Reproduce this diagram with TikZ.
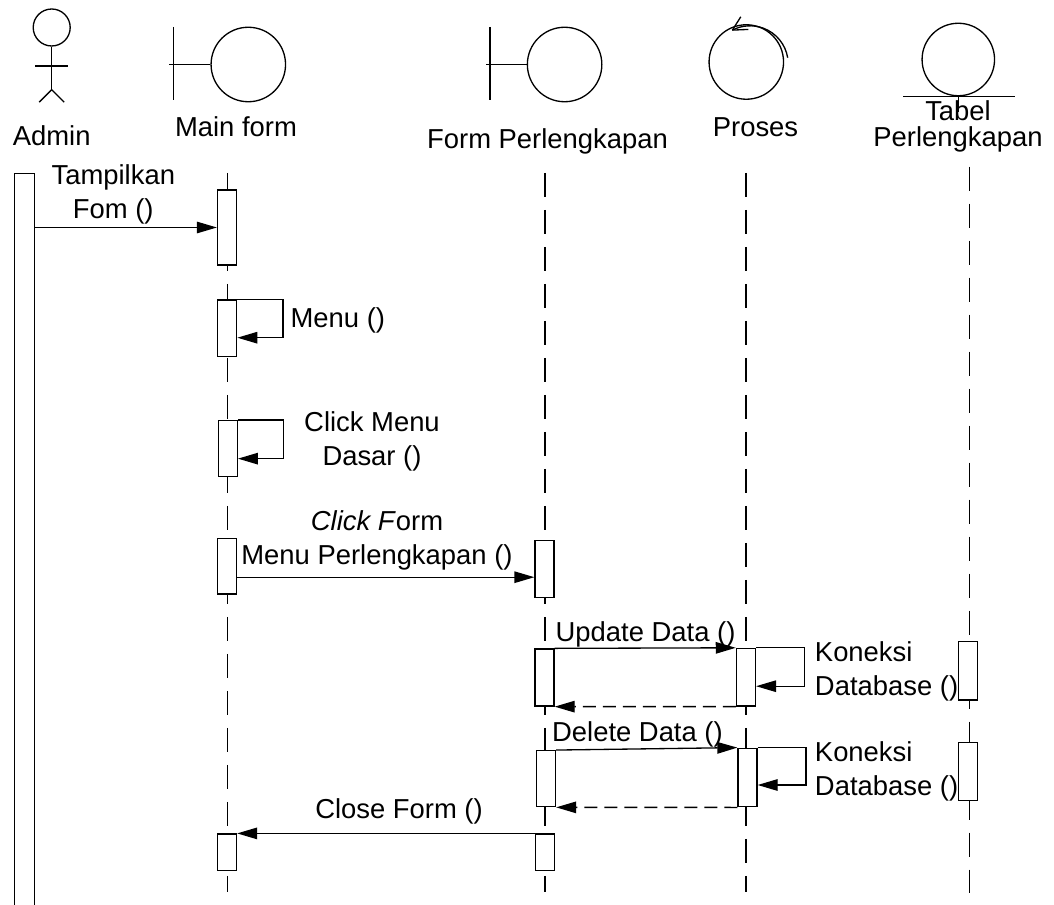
\documentclass[tikz,border=0pt]{standalone}
\usepackage{fontspec}
\setmainfont{Liberation Sans}
\usetikzlibrary{shapes,arrows,positioning,calc,arrows.meta}

\tikzset{
    lifeline/.style={dash pattern=on 0.48cm off 0.26cm},
    actbox/.style={draw, fill=white, minimum width=0.38cm, inner sep=0pt},
    msg/.style={-{Triangle[length=0.4cm,width=0.23cm]}},
    reply/.style={msg, dash pattern=on 0.26cm off 0.14cm},
    lbl/.style={inner sep=0pt, font=\fontsize{15.6pt}{19.3pt}\selectfont},
    icon/.style={draw, circle, inner sep=0pt, minimum size=1.49cm},
}

\begin{document}
\begin{tikzpicture}[x=0.02cm, y=0.02cm, line width=0.75pt]
    \useasboundingbox (0,0) rectangle (1054,-905);

    \node[draw, circle, inner sep=0pt, minimum size=0.74cm] (admhead) at (51.7,-27.5) {};
    \draw (admhead.south) -- ++(0,-43) coordinate (admhip);
    \draw ($(admhead.south)+(-16.5,-19.5)$) -- ++(33,0);
    \draw (admhip) -- ++(-12.5,-12.5);
    \draw (admhip) -- ++(12.5,-12.5);
    \node[lbl, anchor=base] (admlbl) at (51.7,-146) {Admin};

    \node[icon] (mfico) at (248.3,-64.5) {};
    \draw (mfico.west) -- ++(-41,0);
    \draw ($(mfico.west)+(-36.7,37.5)$) -- ++(0,-73);
    \node[lbl, anchor=base] (mflbl) at (236,-136.7) {Main form};

    \node[icon] (fpico) at (564.6,-64.5) {};
    \draw (fpico.west) -- ++(-41,0);
    \draw ($(fpico.west)+(-36.7,37.5)$) -- ++(0,-73);
    \node[lbl, anchor=base] (fplbl) at (547.5,-148.3) {Form Perlengkapan};

    \node[icon] (prico) at (746.3,-62) {};
    \draw ($(prico)+(3.7,-2)+(9.5:38.2)$) arc[start angle=9.5, end angle=117.5, radius=38.2] coordinate (prtip);
    \draw (prtip) -- ++(8.4,13.3);
    \draw (prtip) -- ++(16,0.7);
    \node[lbl, anchor=base] (prlbl) at (755.5,-137) {Proses};

    \node[icon, minimum size=1.45cm] (tbico) at (958.3,-59.5) {};
    \draw ($(tbico.south)+(-55,0)$) -- ++(111.7,0);
    \draw (tbico.south) -- ++(0,-15.7);
    \node[lbl, align=center, font=\fontsize{15.6pt}{15.1pt}\selectfont] (tblbl) at (958,-126.4) {Tabel\\Perlengkapan};

    \coordinate (mftop) at (227.3,-173);
    \coordinate (mfend) at (227.3,-892);
    \coordinate (fptop) at (545,-173);
    \coordinate (fpend) at (545,-892);
    \coordinate (prtop) at (746,-173);
    \coordinate (prend) at (746,-892);
    \coordinate (tbtop) at (969.3,-166.7);
    \coordinate (tbend) at (969.3,-893);
    \draw[lifeline] (mftop) -- (mfend);
    \draw[lifeline] (fptop) -- (fpend);
    \draw[lifeline] (prtop) -- (prend);
    \draw[lifeline] (tbtop) -- (tbend);

    \node[actbox, minimum width=0.4cm, minimum height=14.74cm] (adm) at (24.2,-541.7) {};
    \node[actbox, minimum height=1.5cm] (mf1) at (227,-227.5) {};
    \node[actbox, minimum height=1.13cm] (mf2) at (227.2,-328.3) {};
    \node[actbox, minimum height=1.12cm] (mf3) at (227.8,-448.7) {};
    \node[actbox, minimum height=1.11cm] (mf4) at (226.7,-566.2) {};
    \node[actbox, minimum height=0.73cm] (mf5) at (227,-852.3) {};
    \node[actbox, minimum height=1.15cm] (fp1) at (544.5,-568.9) {};
    \node[actbox, minimum height=1.14cm] (fp2) at (544.5,-677.5) {};
    \node[actbox, minimum height=1.12cm] (fp3) at (546,-778.7) {};
    \node[actbox, minimum height=0.73cm] (fp4) at (545,-852.3) {};
    \node[actbox, minimum height=1.15cm] (pr1) at (745.9,-677.2) {};
    \node[actbox, minimum height=1.17cm] (pr2) at (747.5,-777.5) {};
    \node[actbox, minimum height=1.17cm] (tb1) at (968,-670.9) {};
    \node[actbox, minimum height=1.16cm] (tb2) at (968,-771.7) {};

    \draw[msg] (adm.east |- mf1.west) -- (mf1.west);
    \node[lbl, align=center] (m1) at (113.3,-194.7) {Tampilkan\\Fom ()};

    \draw[msg] (mf2.north east) -- ++(45.6,0) -- ++(0,-38.3) -- ($(mf2.north east)+(0,-38.3)$);
    \node[lbl, anchor=base west] (m2) at (290,-327.7) {Menu ()};

    \draw[msg] (mf3.north east) -- ++(45.6,0) -- ++(0,-38.6) -- ($(mf3.north east)+(0,-38.6)$);
    \node[lbl, align=center] (m3) at (372,-441.7) {Click Menu\\Dasar ()};

    \coordinate (clk) at ($(mf4.north east)+(0,-39.4)$);
    \draw[msg] (clk) -- (clk -| fp1.west);
    \node[lbl, align=center] (m4) at (377,-540.5) {\textit{Click F}orm\\Menu Perlengkapan ()};

    \draw[msg] (fp2.north east) -- (pr1.north west);
    \node[lbl, anchor=base west] (m5) at (555,-641.5) {Update Data ()};
    \draw[msg] (pr1.north east) -- ++(48.3,0) -- ++(0,-38.4) -- ($(pr1.north east)+(0,-38.4)$);
    \node[lbl, align=left, anchor=west] (m6) at (814.3,-671) {Koneksi\\Database ()};
    \draw[reply] (pr1.south west) -- (fp2.south east);

    \draw[msg] (fp3.north east) -- (pr2.north west);
    \node[lbl, anchor=base west] (m7) at (551.5,-741.5) {Delete Data ()};
    \draw[msg] (pr2.north east) -- ++(48.3,0) -- ++(0,-37.4) -- ($(pr2.north east)+(0,-37.4)$);
    \node[lbl, align=left, anchor=west] (m8) at (814.3,-771.5) {Koneksi\\Database ()};
    \draw[reply] (pr2.south west) -- (fp3.south east);

    \draw[msg] (fp4.north west) -- (mf5.north east);
    \node[lbl, anchor=base] (m9) at (399,-818) {Close Form ()};
\end{tikzpicture}
\end{document}
